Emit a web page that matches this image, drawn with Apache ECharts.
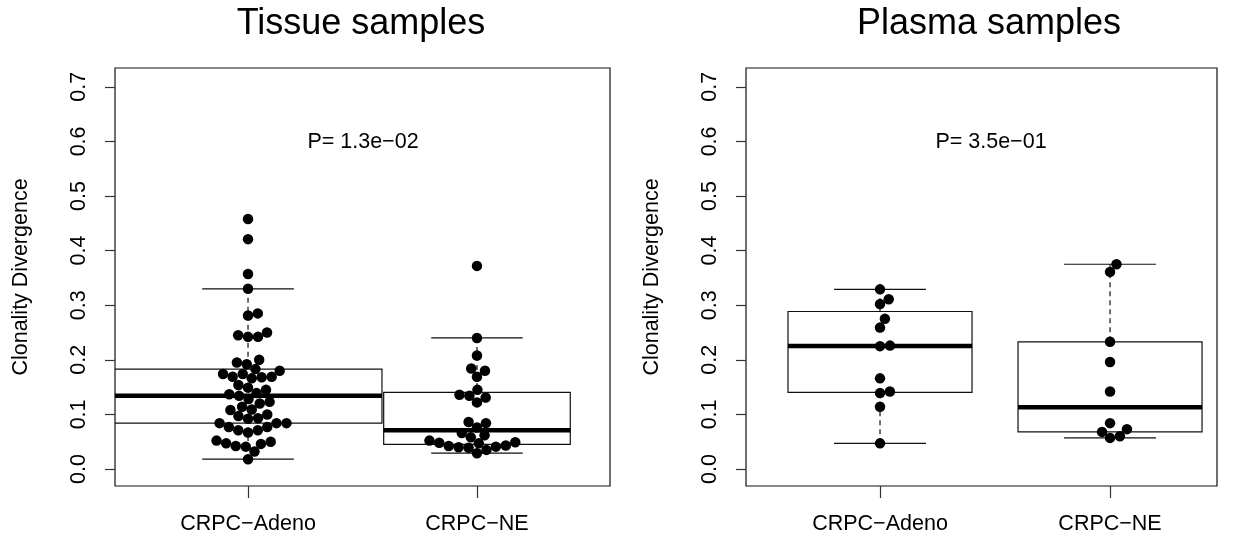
<!DOCTYPE html>
<html>
<head>
<meta charset="utf-8">
<script src="https://cdn.jsdelivr.net/npm/echarts@6/dist/echarts.min.js"></script>
<style>
  html, body { margin: 0; background: #fff; }
  #main { width: 1243px; height: 542px; }
</style>
</head>
<body>
<div id="main"></div>
<script>
// ---- data ----
const categories = ['CRPC\u2212Adeno', 'CRPC\u2212NE'];
const panelTitles = ['Tissue samples', 'Plasma samples'];
const pValues = ['P= 1.3e\u221202', 'P= 3.5e\u221201'];
const yTicks = [0, 0.1, 0.2, 0.3, 0.4, 0.5, 0.6, 0.7];

const tissueAdeno = [0.458, 0.421, 0.357, 0.330, 0.281, 0.285, 0.245, 0.242, 0.242, 0.250,
  0.200, 0.192, 0.195, 0.183, 0.174, 0.169, 0.168, 0.166, 0.169, 0.174, 0.180,
  0.149, 0.145, 0.154, 0.139, 0.137, 0.134, 0.128, 0.123, 0.114, 0.120,
  0.109, 0.108, 0.097, 0.092, 0.093, 0.100,
  0.084, 0.077, 0.071, 0.067, 0.071, 0.077, 0.084, 0.084,
  0.052, 0.047, 0.042, 0.041, 0.032, 0.046, 0.050, 0.018];
const tissueNE = [0.372, 0.240, 0.208, 0.184, 0.180, 0.169, 0.145, 0.136, 0.134, 0.131, 0.122,
  0.086, 0.084, 0.076, 0.066, 0.058, 0.062,
  0.052, 0.047, 0.042, 0.039, 0.040, 0.048, 0.035, 0.041, 0.043, 0.049, 0.029];
const plasmaAdeno = [0.329, 0.311, 0.302, 0.275, 0.259, 0.225, 0.226, 0.166, 0.139, 0.142, 0.114, 0.047];
const plasmaNE = [0.375, 0.361, 0.233, 0.196, 0.142, 0.084, 0.068, 0.073, 0.057, 0.060];

// ---- layout (pixels / axis units) ----
const FONT = '"Liberation Sans", Arial, sans-serif';
const TEXT = 21.5;
const GRID_TOP = 68, GRID_H = 418;
const Y_MIN = -0.0311, Y_MAX = 0.7344;
const DOT = 10;      // swarm spacing in px
const CAP = 0.4;     // staple width in x units

const panels = [
  { left: 115, width: 495, xMin: 0.419, xMax: 2.581, boxW: [1.17, 0.815], titleX: 361, groups: [tissueAdeno, tissueNE] },
  { left: 746, width: 471, xMin: 0.4174, xMax: 2.465, boxW: [0.8, 0.8], titleX: 989, groups: [plasmaAdeno, plasmaNE] }
];

// Tukey five-number summary, same as R's fivenum / boxplot.stats
function boxStats(vals) {
  const s = [...vals].sort((a, b) => a - b), n = s.length;
  const n4 = Math.floor((n + 3) / 2) / 2;
  const d = [1, n4, (n + 1) / 2, n + 1 - n4, n];
  const f = d.map(p => 0.5 * (s[Math.floor(p) - 1] + s[Math.ceil(p) - 1]));
  const iqr = f[3] - f[1];
  const lo = Math.min(...s.filter(v => v >= f[1] - 1.5 * iqr));
  const hi = Math.max(...s.filter(v => v <= f[3] + 1.5 * iqr));
  return [lo, f[1], f[2], f[3], hi];
}

// beeswarm "swarm" layout: place points lowest first, nearest free spot to the centre
function swarm(vals, pxPerY) {
  const order = vals.map((v, i) => i).sort((a, b) => vals[a] - vals[b]);
  const px = [], py = [], out = new Array(vals.length);
  order.forEach(i => {
    const y = vals[i] * pxPerY;
    const cands = [0];
    for (let j = 0; j < py.length; j++) {
      const dy = y - py[j];
      if (Math.abs(dy) < DOT) {
        const dx = Math.sqrt(DOT * DOT - dy * dy);
        cands.push(px[j] + dx, px[j] - dx);
      }
    }
    let best = null;
    cands.forEach(c => {
      const ok = py.every((yy, j) => Math.hypot(c - px[j], y - yy) >= DOT - 1e-6);
      if (ok && (best === null || Math.abs(c) < Math.abs(best) - 1e-9)) best = c;
    });
    px.push(best); py.push(y);
    out[i] = best;
  });
  return out;
}

function renderBox(panel) {
  return function (params, api) {
    const x = api.value(0);
    const hw = panel.boxW[params.dataIndex] / 2;
    const lo = api.value(1), q1 = api.value(2), med = api.value(3), q3 = api.value(4), hi = api.value(5);
    const c = (xx, yy) => api.coord([xx, yy]);
    const line = (a, b, style) => ({ type: 'line', shape: { x1: a[0], y1: a[1], x2: b[0], y2: b[1] }, style });
    const thin = { stroke: '#111', lineWidth: 1.2 };
    const dash = { stroke: '#111', lineWidth: 1.2, lineDash: [5, 4] };
    const tl = c(x - hw, q3), br = c(x + hw, q1);
    return {
      type: 'group',
      children: [
        line(c(x, hi), c(x, q3), dash),
        line(c(x, lo), c(x, q1), dash),
        line(c(x - CAP / 2, hi), c(x + CAP / 2, hi), thin),
        line(c(x - CAP / 2, lo), c(x + CAP / 2, lo), thin),
        { type: 'rect', shape: { x: tl[0], y: tl[1], width: br[0] - tl[0], height: br[1] - tl[1] },
          style: { fill: 'none', stroke: '#111', lineWidth: 1.2 } },
        line(c(x - hw, med), c(x + hw, med), { stroke: '#000', lineWidth: 4.5 })
      ]
    };
  };
}

const grids = [], xAxes = [], yAxes = [], series = [], titles = [];
const pxPerY = GRID_H / (Y_MAX - Y_MIN);

panels.forEach((p, k) => {
  grids.push({ left: p.left, top: GRID_TOP, width: p.width, height: GRID_H, show: true,
    borderColor: '#111', borderWidth: 1.2, backgroundColor: 'transparent' });
  xAxes.push({
    gridIndex: k, type: 'value', min: p.xMin, max: p.xMax,
    axisLine: { show: false, onZero: false }, splitLine: { show: false },
    axisTick: { show: true, customValues: [1, 2], length: 12, lineStyle: { color: '#333', width: 1.2 } },
    axisLabel: { customValues: [1, 2], formatter: v => categories[Math.round(v) - 1],
      fontSize: TEXT, fontFamily: FONT, color: '#000', margin: 27 }
  });
  yAxes.push({
    gridIndex: k, type: 'value', min: Y_MIN, max: Y_MAX,
    axisLine: { show: false, onZero: false }, splitLine: { show: false },
    axisTick: { show: true, customValues: yTicks, length: 10, lineStyle: { color: '#333', width: 1.2 } },
    axisLabel: { customValues: yTicks, rotate: 90, formatter: v => v.toFixed(1),
      fontSize: TEXT, fontFamily: FONT, color: '#000', margin: 25 },
    name: 'Clonality Divergence', nameLocation: 'middle', nameRotate: 90, nameGap: 83,
    nameTextStyle: { fontSize: TEXT, fontFamily: FONT, color: '#000' }
  });

  const pxPerX = p.width / (p.xMax - p.xMin);
  series.push({
    type: 'custom', xAxisIndex: k, yAxisIndex: k, clip: true, z: 2,
    renderItem: renderBox(p),
    encode: { x: 0, y: [1, 2, 3, 4, 5] },
    data: p.groups.map((g, i) => [i + 1, ...boxStats(g)])
  });
  const pts = [];
  p.groups.forEach((g, i) => {
    const off = swarm(g, pxPerY);
    g.forEach((v, j) => pts.push([i + 1 + off[j] / pxPerX, v]));
  });
  series.push({
    type: 'scatter', xAxisIndex: k, yAxisIndex: k, z: 3,
    symbol: 'circle', symbolSize: 10.5, itemStyle: { color: '#000', opacity: 1 },
    data: pts
  });

  titles.push({ text: panelTitles[k], left: p.titleX, top: 6, textAlign: 'center', padding: 0,
    textStyle: { fontSize: 36, fontWeight: 'normal', fontFamily: FONT, color: '#000' } });
  titles.push({ text: pValues[k], left: p.titleX + 2, top: 131, textAlign: 'center', padding: 0,
    textStyle: { fontSize: TEXT, fontWeight: 'normal', fontFamily: FONT, color: '#000' } });
});

const chart = echarts.init(document.getElementById('main'), null, { renderer: 'canvas' });
chart.setOption({
  animation: false,
  backgroundColor: '#fff',
  title: titles,
  grid: grids,
  xAxis: xAxes,
  yAxis: yAxes,
  series: series
});
</script>
</body>
</html>
